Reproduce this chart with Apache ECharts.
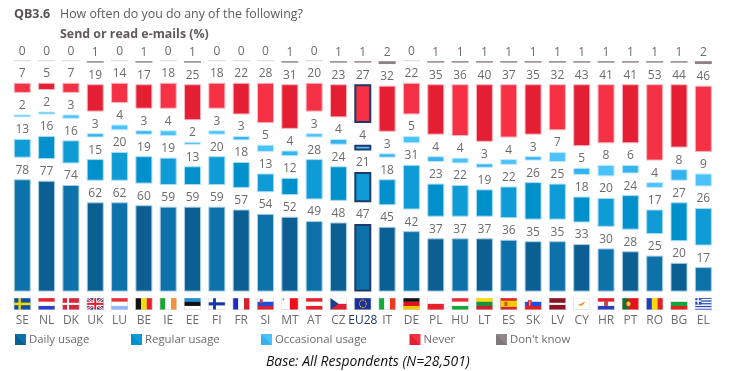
<!DOCTYPE html>
<html><head><meta charset="utf-8">
<style>html,body{margin:0;padding:0;background:#fff}#c{width:734px;height:371px}</style>
<script src="https://cdn.jsdelivr.net/npm/echarts@6/dist/echarts.min.js"></script>
</head><body><div id="c"></div>
<script>
const countries = ['SE','NL','DK','UK','LU','BE','IE','EE','FI','FR','SI','MT','AT','CZ','EU28','IT','DE','PL','HU','LT','ES','SK','LV','CY','HR','PT','RO','BG','EL'];
const daily      = [78,77,74,62,62,60,59,59,59,57,54,52,49,48,47,45,42,37,37,37,36,35,35,33,30,28,25,20,17];
const regular    = [13,16,16,15,20,19,19,13,20,18,13,12,28,24,21,18,31,23,22,19,22,26,25,18,20,24,17,27,26];
const occasional = [2,2,3,3,4,3,4,2,3,3,5,4,3,4,4,3,5,4,4,3,4,3,7,5,8,6,4,8,9];
const never      = [7,5,7,19,14,17,18,25,18,22,28,31,20,23,27,32,22,35,36,40,37,35,32,43,41,41,53,44,46];
const dontKnow   = [0,0,0,1,0,1,0,1,0,0,0,1,0,1,1,2,0,1,1,1,1,1,1,1,1,1,1,1,2];

const GAP = 15, TOTAL = 160;
const FONT = '"Open Sans","Noto Sans",sans-serif';
const GREY = '#6e6a6c';
const NAVY = '#1f3a68';

// flag artwork
const H = cs => cs.map((c,i)=>`<rect x="0" y="${i*12/cs.length}" width="18" height="${12/cs.length+.1}" fill="${c}"/>`).join('');
const V = cs => cs.map((c,i)=>`<rect x="${i*18/cs.length}" y="0" width="${18/cs.length+.1}" height="12" fill="${c}"/>`).join('');
const R = (x,y,w,h,c)=>`<rect x="${x}" y="${y}" width="${w}" height="${h}" fill="${c}"/>`;
const art = {
  SE: R(0,0,18,12,'#0b4fa8')+R(5,0,2.5,12,'#f6d800')+R(0,4.8,18,2.5,'#f6d800'),
  NL: H(['#e8202e','#fff','#2a3fd0']),
  DK: R(0,0,18,12,'#d7263d')+R(5,0,2,12,'#fff')+R(0,5,18,2,'#fff'),
  UK: R(0,0,18,12,'#2a3a9a')+'<path d="M0 0L18 12M18 0L0 12" stroke="#fff" stroke-width="2.4"/><path d="M0 0L18 12M18 0L0 12" stroke="#e0202e" stroke-width="1"/>'+R(7,0,4,12,'#fff')+R(0,4,18,4,'#fff')+R(8,0,2,12,'#e0202e')+R(0,5,18,2,'#e0202e'),
  LU: H(['#e8303c','#fff','#8fb8ff']),
  BE: V(['#111','#f5d90a','#e5202e']),
  IE: V(['#17a832','#fff','#f7923a']),
  EE: H(['#1d8fe0','#111','#fff']),
  FI: R(0,0,18,12,'#fff')+R(5,0,3,12,'#1637a8')+R(0,4.5,18,3,'#1637a8'),
  FR: V(['#1c2fb8','#fff','#d81e2c']),
  SI: H(['#fff','#1b4fe0','#e0202e'])+R(3,1.5,3,3.5,'#c8404c'),
  MT: V(['#fff','#f0101c'])+R(1.5,1,1.5,1.5,'#777'),
  AT: H(['#e8202e','#fff','#e8202e']),
  CZ: H(['#fff','#e0202e'])+'<path d="M0 0L9 6L0 12Z" fill="#1b3f95"/>',
  EU28: R(0,0,18,12,'#1c2f9a')+'<circle cx="9" cy="6" r="3.6" fill="none" stroke="#e8d000" stroke-width="1.1" stroke-dasharray="1 .9"/>',
  IT: V(['#12a83a','#fff','#f03a1e']),
  DE: H(['#111','#e0101c','#f9c800']),
  PL: H(['#fff','#e8202e']),
  HU: H(['#ea2a36','#fff','#14a83a']),
  LT: H(['#f7e000','#17913a','#d0202c']),
  ES: R(0,0,18,12,'#e0202e')+R(0,3,18,6,'#f7c800')+R(4.5,4,3,4,'#b8601c'),
  SK: H(['#fff','#1b4fe0','#e0202e'])+R(3.5,2.5,4,6,'#e0202e')+R(5,3.5,1,4,'#fff'),
  LV: R(0,0,18,12,'#8c1525')+R(0,5,18,2,'#fff'),
  CY: R(0,0,18,12,'#fff')+'<path d="M5 7L9 5.5L13 3.5L11 6.5L8 8Z" fill="#e89a2a"/>',
  HR: H(['#e0202e','#fff','#2a3fc0'])+R(7,3,4,5,'#c8404c'),
  PT: R(0,0,18,12,'#e8101c')+R(0,0,7,12,'#13702a')+'<circle cx="7" cy="6" r="2.8" fill="#e8c840" stroke="#a01818" stroke-width=".8"/>',
  RO: V(['#1b3fc8','#fad800','#e0202e']),
  BG: H(['#fff','#12a83a','#e8201c']),
  EL: H(['#1c45c0','#fff','#1c45c0','#fff','#1c45c0','#fff','#1c45c0','#fff','#1c45c0'])+R(0,0,7,6.6,'#1c45c0')+R(2.8,0,1.4,6.6,'#fff')+R(0,2.6,7,1.4,'#fff')
};
const flagUrl = k => 'data:image/svg+xml;charset=utf-8,' + encodeURIComponent(
  `<svg xmlns="http://www.w3.org/2000/svg" width="18" height="13" viewBox="0 0 18 12" preserveAspectRatio="none">${art[k]}<rect x=".3" y=".3" width="17.4" height="11.4" fill="none" stroke="#d4d2d2" stroke-width=".6"/></svg>`);

const rich = {
  t: {color: GREY, fontSize: 12, fontFamily: FONT, lineHeight: 15, padding:[5,0,0,0]},
  e: {color: NAVY, fontSize: 12, fontFamily: FONT, lineHeight: 15, padding:[5,0,0,0]}
};
countries.forEach(k => { rich[k] = {width: 17, height: 12.5, backgroundColor: {image: flagUrl(k)}}; });

const isEU = i => countries[i] === 'EU28';
function barData(values, light, dark, tint) {
  return values.map((v,i)=>({
    value: v,
    itemStyle: {
      color: i % 2 ? dark : light,
      borderColor: isEU(i) ? NAVY : tint,
      borderWidth: isEU(i) ? 2 : 1
    }
  }));
}
function visible(name, values, light, dark, tint) {
  return {
    name, type: 'bar', stack: 's', barWidth: 17,
    itemStyle: {color: light},
    label: {show: true, position: 'top', distance: 3, color: GREY, fontSize: 12, fontFamily: FONT},
    emphasis: {disabled: true},
    data: barData(values, light, dark, tint)
  };
}
function spacer(values) {
  return {type: 'bar', stack: 's', barWidth: 17, silent: true, itemStyle: {color: 'transparent'}, label: {show: false}, data: values};
}
const gapArr = countries.map(() => GAP);
const topGap = countries.map((_,i) => TOTAL - daily[i]-regular[i]-occasional[i]-never[i]-dontKnow[i]-3*GAP);

const dkSeries = {
  name: "Don't know", type: 'bar', stack: 's', barWidth: 17, barMinHeight: 1,
  itemStyle: {color: '#8b8284'},
  label: {show: true, position: 'top', distance: 3, color: GREY, fontSize: 12, fontFamily: FONT},
  emphasis: {disabled: true},
  data: dontKnow.map(v => ({value: v, itemStyle: {color: v === 0 ? '#d8d6d6' : '#8b8284'}}))
};

const diag = (a,b) => new echarts.graphic.LinearGradient(0,1,1,0,[{offset:0,color:a},{offset:.5,color:a},{offset:.5,color:b},{offset:1,color:b}]);
const legendDefs = [
  ['Daily usage', 15, '#0b5f92', '#0e72aa'],
  ['Regular usage', 131, '#0090cc', '#0f9bd6'],
  ['Occasional usage', 261, '#35b3ee', '#4cc2fb'],
  ['Never', 409.5, '#e41f33', '#f43145'],
  ["Don't know", 496, '#7f7779', '#8f8789']
];

const chart = echarts.init(document.getElementById('c'), null, {renderer: 'canvas'});
chart.setOption({
  animation: false,
  backgroundColor: '#fff',
  title: [
    {text: 'QB3.6', left: 14, top: 8, padding: 0, textStyle: {color: '#555153', fontSize: 12.5, fontWeight: 'bold', fontFamily: FONT}},
    {text: 'How often do you do any of the following?', left: 60, top: 8, padding: 0, textStyle: {color: '#5e5a5c', fontSize: 12.4, fontWeight: 'normal', fontFamily: FONT}},
    {text: 'Send or read e-mails (%)', left: 60, top: 28, padding: 0, textStyle: {color: '#5e5a5c', fontSize: 12.4, fontWeight: 'bold', fontFamily: FONT}},
    {text: 'Base: All Respondents (N=28,501)', left: 266, top: 355, padding: 0, textStyle: {color: '#111', fontSize: 13.9, fontWeight: 'normal', fontStyle: 'italic', fontFamily: FONT}}
  ],
  legend: legendDefs.map(d => ({
    left: d[1], top: 334, padding: 0, itemWidth: 11, itemHeight: 11, selectedMode: false,
    textStyle: {color: GREY, fontSize: 11.4, fontFamily: FONT, padding: [1,0,0,-2]},
    data: [{name: d[0], icon: 'rect', itemStyle: {color: diag(d[2], d[3]), borderWidth: 0}}]
  })),
  grid: {left: 10.1, width: 705.4, top: 58.3, height: 233.3},
  xAxis: {
    type: 'category', data: countries,
    axisLine: {show: false}, axisTick: {show: false},
    axisLabel: {
      interval: 0, margin: 6, hideOverlap: false, rich,
      formatter: v => `{${v}|}\n{${v === 'EU28' ? 'e' : 't'}|${v}}`
    }
  },
  yAxis: {type: 'value', min: 0, max: 162, show: false},
  tooltip: {show: false},
  series: [
    visible('Daily usage', daily, '#0e72aa', '#0b5f92', '#a9cfe6'),
    spacer(gapArr),
    visible('Regular usage', regular, '#0f9bd6', '#0090cc', '#a6dcf3'),
    spacer(gapArr),
    visible('Occasional usage', occasional, '#4cc2fb', '#35b3ee', '#bde9fd'),
    spacer(gapArr),
    visible('Never', never, '#f43145', '#e41f33', '#fbb5bd'),
    spacer(topGap),
    dkSeries
  ]
});
</script></body></html>
